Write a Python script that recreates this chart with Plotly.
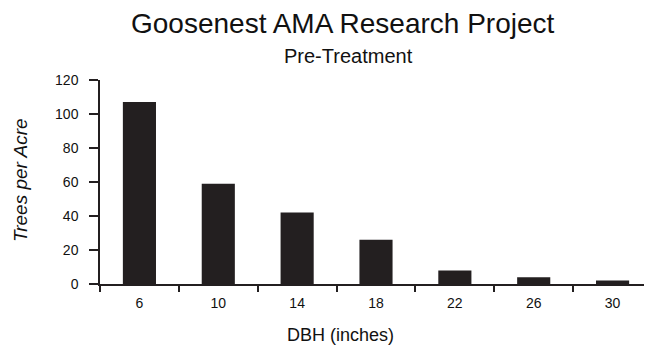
import plotly.graph_objects as go

dbh_classes = ["6", "10", "14", "18", "22", "26", "30"]
trees_per_acre = [107, 59, 42, 26, 8, 4, 2]

title_text = "Goosenest AMA Research Project"
subtitle_text = "Pre-Treatment"
x_title = "DBH (inches)"
y_title = "Trees per Acre"
y_ticks = [0, 20, 40, 60, 80, 100, 120]

# The page body has an 8px default margin; figure is sized to fit the window.
OFF = 8
W, H = 652 - OFF, 348 - OFF
PL, PB = 100, 284          # plot left / bottom in window pixels
PW, PH = 552, 204
L = PL - OFF
T = PB - PH - OFF
B = H - (T + PH)
R = W - L - PW

def px(x):
    return (x - PL) / PW

def py(y):
    return (PB - y) / PH

FONT = "Liberation Sans, Arial, sans-serif"
INK = "#231f20"

fig = go.Figure(go.Bar(
    x=dbh_classes, y=trees_per_acre,
    marker=dict(color=INK, line=dict(width=0)),
    width=0.42,
))

fig.update_layout(
    width=W, height=H,
    margin=dict(l=L, r=R, t=T, b=B, pad=0, autoexpand=False),
    paper_bgcolor="white", plot_bgcolor="white",
    showlegend=False,
    font=dict(family=FONT, color="black", size=14),
    xaxis=dict(
        type="category", tickson="boundaries",
        showline=True, linecolor=INK, linewidth=1.5,
        ticks="outside", ticklen=6, tickcolor=INK, tickwidth=1.5,
        showgrid=False, zeroline=False,
        tickfont=dict(size=14, color="#111"),
        ticklabelstandoff=5,
        range=[-0.5, 6.5], automargin=False,
    ),
    yaxis=dict(
        range=[0, 120], tickvals=y_ticks,
        showline=True, linecolor=INK, linewidth=1.5,
        ticks="outside", ticklen=9, tickcolor=INK, tickwidth=1.5,
        showgrid=False, zeroline=False,
        tickfont=dict(size=14, color="#111"),
        ticklabelstandoff=8, automargin=False,
    ),
    annotations=[
        dict(text=title_text, x=px(343), y=py(23), xref="paper", yref="paper",
             showarrow=False, xanchor="center", yanchor="middle",
             font=dict(size=28, family=FONT, color="#111")),
        dict(text=subtitle_text, x=px(348), y=py(56), xref="paper", yref="paper",
             showarrow=False, xanchor="center", yanchor="middle",
             font=dict(size=20, family=FONT, color="#111")),
        dict(text=x_title, x=px(340), y=py(335), xref="paper", yref="paper",
             showarrow=False, xanchor="center", yanchor="middle",
             font=dict(size=18, family=FONT, color="#111")),
        dict(text="<i>" + y_title + "</i>", x=px(20), y=py(180), xref="paper", yref="paper",
             showarrow=False, xanchor="center", yanchor="middle", textangle=-90,
             font=dict(size=19, family=FONT, color="#111")),
    ],
)

fig.write_html("out.html")
